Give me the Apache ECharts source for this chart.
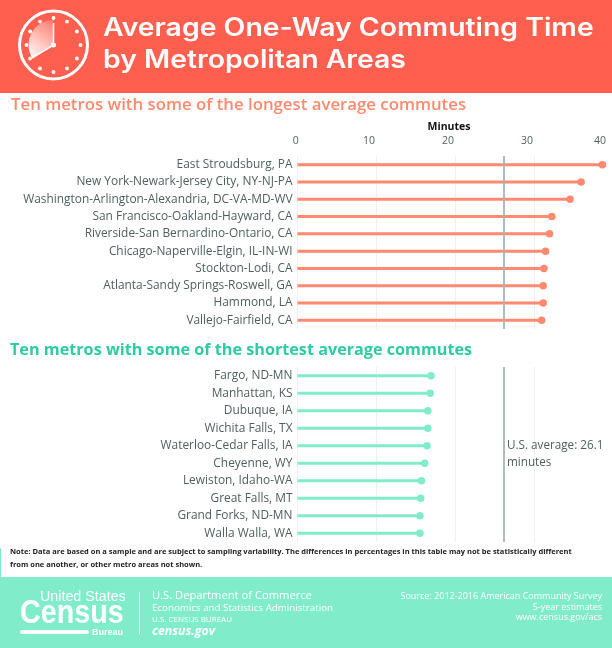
<!DOCTYPE html>
<html>
<head>
<meta charset="utf-8">
<style>html,body{margin:0;padding:0;background:#fff}#main{width:612px;height:648px}</style>
<script src="https://cdn.jsdelivr.net/npm/echarts@6/dist/echarts.min.js"></script>
</head>
<body>
<div id="main"></div>
<script>
var longNames = ['East Stroudsburg, PA','New York-Newark-Jersey City, NY-NJ-PA','Washington-Arlington-Alexandria, DC-VA-MD-WV','San Francisco-Oakland-Hayward, CA','Riverside-San Bernardino-Ontario, CA','Chicago-Naperville-Elgin, IL-IN-WI','Stockton-Lodi, CA','Atlanta-Sandy Springs-Roswell, GA','Hammond, LA','Vallejo-Fairfield, CA'];
var longValues = [38.6, 35.9, 34.5, 32.2, 31.9, 31.4, 31.2, 31.1, 31.1, 30.9];
var shortNames = ['Fargo, ND-MN','Manhattan, KS','Dubuque, IA','Wichita Falls, TX','Waterloo-Cedar Falls, IA','Cheyenne, WY','Lewiston, Idaho-WA','Great Falls, MT','Grand Forks, ND-MN','Walla Walla, WA'];
var shortValues = [16.9, 16.8, 16.5, 16.5, 16.4, 16.1, 15.7, 15.6, 15.5, 15.5];
var usAverage = 26.1;

var CORAL = '#ff8a6f', MINT = '#80ecca', RED = '#ff5f4f', GREY = '#4f5f5f';
var FONT = '"Open Sans"';

// one bar + one scatter per lollipop row
function lollipop(idx, values, color) {
	return [{
		type: 'bar',
		xAxisIndex: idx,
		yAxisIndex: idx,
		data: values,
		barWidth: 3,
		itemStyle: {color: color},
		markLine: {
			silent: true,
			symbol: 'none',
			z: 5,
			label: {show: false},
			lineStyle: {color: '#aab2b2', width: 2, type: 'solid', opacity: 0.9},
			data: [{xAxis: usAverage}]
		}
	}, {
		type: 'scatter',
		xAxisIndex: idx,
		yAxisIndex: idx,
		data: values.map(function(v, i) { return [v, i]; }),
		symbolSize: 7.5,
		itemStyle: {color: color, opacity: 1},
		z: 6
	}];
}

function valueAxis(gridIndex) {
	return {
		type: 'value',
		gridIndex: gridIndex,
		min: 0,
		max: 40,
		interval: 10,
		axisLabel: {show: false},
		axisLine: {show: false},
		axisTick: {show: false},
		splitLine: {show: true, lineStyle: {color: '#efefef', width: 1}}
	};
}

function nameAxis(gridIndex, names) {
	return {
		type: 'category',
		gridIndex: gridIndex,
		data: names,
		inverse: true,
		axisLine: {show: false},
		axisTick: {show: false},
		axisLabel: {color: GREY, fontFamily: FONT, fontSize: 11.9, margin: 5, interval: 0, padding: [4, 0, 0, 0]}
	};
}

function text(x, y, str, size, color, extra, scaleX) {
	var style = {x: 0, y: 0, text: str, fontSize: size, fill: color, fontFamily: FONT, textVerticalAlign: 'middle'};
	for (var k in (extra || {})) style[k] = extra[k];
	return {type: 'text', silent: true, z: 20, x: x, y: y, scaleX: scaleX || 1, style: style};
}

var cx = 53.5, cy = 45;
var clock = [
	{type: 'circle', silent: true, z: 20, shape: {cx: cx, cy: cy, r: 34}, style: {fill: 'none', stroke: '#fff', lineWidth: 3}},
	{type: 'sector', silent: true, z: 19, shape: {cx: cx, cy: cy, r: 25, r0: 0, startAngle: Math.PI * 5 / 6, endAngle: Math.PI * 3 / 2, clockwise: true},
		style: {fill: new echarts.graphic.LinearGradient(0, 1, 1, 0, [{offset: 0, color: '#ffffff'}, {offset: 1, color: '#ff7a6b'}])}},
	{type: 'polyline', silent: true, z: 21, shape: {points: [[cx, 23], [cx, cy], [32, 58]]}, style: {fill: 'none', stroke: '#fff', lineWidth: 1.5}},
	{type: 'circle', silent: true, z: 21, shape: {cx: cx, cy: cy, r: 2.5}, style: {fill: '#fff'}}
];
for (var h = 0; h < 12; h++) {
	var a = h * Math.PI / 6;
	clock.push({type: 'circle', silent: true, z: 20, shape: {cx: cx + 27 * Math.sin(a), cy: cy - 27 * Math.cos(a), r: 1.9}, style: {fill: '#fff'}});
}

var LOGO = '"Liberation Sans"';
var TITLE = {fontFamily: 'Inter', fontWeight: 600};
var graphics = [
	{type: 'rect', silent: true, z: 10, shape: {x: 0, y: 0, width: 612, height: 93}, style: {fill: RED}},
	{type: 'rect', silent: true, z: 10, shape: {x: 0, y: 577, width: 612, height: 71}, style: {fill: MINT}},
	{type: 'rect', silent: true, z: 10, shape: {x: 0, y: 548, width: 1, height: 29}, style: {fill: MINT}},
	{type: 'rect', silent: true, z: 20, shape: {x: 20, y: 630, width: 69, height: 4, r: 2}, style: {fill: '#fff'}},
	{type: 'rect', silent: true, z: 20, shape: {x: 139, y: 592, width: 1, height: 42}, style: {fill: '#fff'}},
	text(103, 28, 'Average One-Way Commuting Time', 25, '#fff', TITLE, 1.135),
	text(103, 60, 'by Metropolitan Areas', 25, '#fff', TITLE, 1.135),
	text(11, 105, 'Ten metros with some of the longest average commutes', 16.8, CORAL, {fontWeight: 600}),
	text(10, 350, 'Ten metros with some of the shortest average commutes', 16.2, '#2ecba4', {fontWeight: 700}),
	text(449, 127, 'Minutes', 10.5, '#111', {fontWeight: 700, textAlign: 'center'}),
	text(507, 446, 'U.S. average: 26.1', 11.7, GREY),
	text(507, 463, 'minutes', 11.7, GREY),
	text(10, 552, 'Note: Data are based on a sample and are subject to sampling variability. The differences in percentages in this table may not be statistically different', 7.5, '#222', {fontWeight: 700}),
	text(10, 565, 'from one another, or other metro areas not shown.', 7.5, '#222', {fontWeight: 700}),
	text(40, 597, 'United States', 14, '#fff', {fontFamily: LOGO}, 1.02),
	text(20, 614, 'Census', 33, '#fff', {fontFamily: LOGO, fontWeight: 'bold'}, 0.87),
	text(92, 632, 'Bureau', 9.5, '#fff', {fontFamily: LOGO, fontWeight: 'bold'}, 0.95),
	text(152, 596, 'U.S. Department of Commerce', 11.2, '#fff'),
	text(152, 608, 'Economics and Statistics Administration', 9.75, '#fff'),
	text(152, 620, 'U.S. CENSUS BUREAU', 8, '#fff'),
	text(152, 631, 'census.gov', 12.3, '#fff', {fontWeight: 'bold', fontStyle: 'italic'}),
	text(602, 596, 'Source: 2012-2016 American Community Survey', 9, '#fff', {textAlign: 'right'}),
	text(602, 607, '5-year estimates', 9, '#fff', {textAlign: 'right'}),
	text(602, 617, 'www.census.gov/acs', 9, '#fff', {textAlign: 'right'})
].concat(clock);

var chart = echarts.init(document.getElementById('main'));
chart.setOption({
	animation: false,
	backgroundColor: '#fff',
	grid: [
		// the 40 gridline falls just off the page, so the grid must not be pulled back in
		{left: 297.5, top: 156, width: 316, height: 173, outerBoundsMode: 'none'},
		{left: 297.5, top: 367, width: 316, height: 175, outerBoundsMode: 'none'},
		// tick labels sit off the gridlines in the original, so they get their own axis
		{left: 290, top: 149, width: 316, height: 1, outerBoundsMode: 'none'}
	],
	xAxis: [
		valueAxis(0),
		valueAxis(1),
		{
			type: 'value', gridIndex: 2, position: 'top', min: 0, max: 40, interval: 10,
			axisLine: {show: false}, axisTick: {show: false}, splitLine: {show: false},
			axisLabel: {
				color: GREY, fontFamily: FONT, fontSize: 10.5, margin: 2, alignMinLabel: 'left', alignMaxLabel: 'right',
				formatter: function(v) { return v === 0 ? '\u00a00' : String(v); }
			}
		}
	],
	yAxis: [
		nameAxis(0, longNames),
		nameAxis(1, shortNames),
		{type: 'value', gridIndex: 2, show: false}
	],
	series: lollipop(0, longValues, CORAL).concat(lollipop(1, shortValues, MINT)),
	graphic: graphics
});
</script>
</body>
</html>
